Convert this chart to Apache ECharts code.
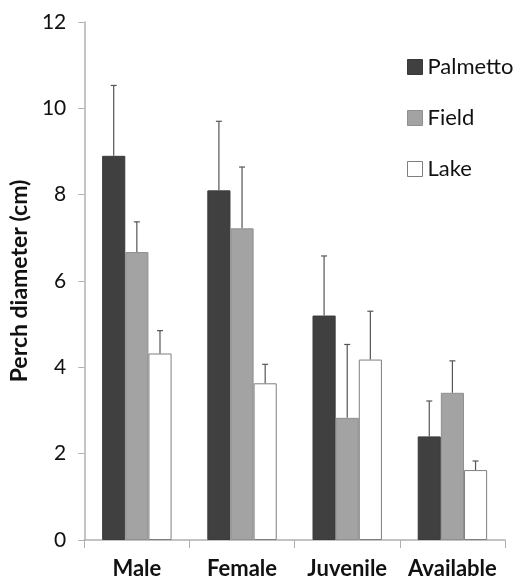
<!DOCTYPE html>
<html><head><meta charset="utf-8">
<script src="https://cdn.jsdelivr.net/npm/echarts@6/dist/echarts.min.js"></script>
<style>html,body{margin:0;padding:0;background:#fff}#c{width:523px;height:582px}</style>
</head><body><div id="c"></div>
<script>
const categories = ['Male', 'Female', 'Juvenile', 'Available'];
const seriesNames = ['Palmetto', 'Field', 'Lake'];
const palmetto = [8.9, 8.1, 5.2, 2.4];
const field = [6.67, 7.22, 2.83, 3.41];
const lake = [4.32, 3.63, 4.18, 1.62];
const palmettoErr = [1.63, 1.6, 1.38, 0.82];
const fieldErr = [0.7, 1.42, 1.7, 0.74];
const lakeErr = [0.53, 0.44, 1.12, 0.21];
const yTicks = [0, 2, 4, 6, 8, 10, 12];

const values = [palmetto, field, lake];
const errs = [palmettoErr, fieldErr, lakeErr];
const colors = ['#404040', '#a3a3a3', '#ffffff'];
const borders = ['#3a3a3a', '#8f8f8f', '#7f7f7f'];
const catGap = 0.34;
const FONT = 'Lato';

const chart = echarts.init(document.getElementById('c'), null, {renderer: 'canvas'});
const series = [];
seriesNames.forEach((n, i) => {
  series.push({
    name: n, type: 'bar', data: values[i],
    barGap: '0%', barCategoryGap: (catGap * 100) + '%',
    itemStyle: {color: colors[i], borderColor: borders[i], borderWidth: 1},
    emphasis: {disabled: true}, z: 2
  });
});
seriesNames.forEach((n, i) => {
  series.push({
    type: 'custom', name: n + ' err', silent: true, z: 3,
    data: values[i].map((v, k) => [k, v, v + errs[i][k]]),
    renderItem: function (params, api) {
      const k = api.value(0);
      const base = api.coord([k, api.value(1)]);
      const top = api.coord([k, api.value(2)]);
      const bandW = api.size([1, 0])[0];
      const bw = bandW * (1 - catGap) / 3;
      const x = base[0] + (i - 1) * bw;
      const cap = 3;
      const st = {stroke: '#555', lineWidth: 1.2};
      return {type: 'group', children: [
        {type: 'line', shape: {x1: x, y1: base[1], x2: x, y2: top[1]}, style: st},
        {type: 'line', shape: {x1: x - cap, y1: top[1], x2: x + cap, y2: top[1]}, style: st}
      ]};
    }
  });
});

chart.setOption({
  animation: false,
  textStyle: {fontFamily: FONT},
  grid: {left: 80, right: 18, top: 22, bottom: 42, containLabel: false},
  legend: {
    data: seriesNames.map((n, i) => ({name: n, itemStyle: {color: colors[i], borderColor: borders[i], borderWidth: 1}})),
    orient: 'vertical', left: 402, top: 51, itemGap: 29,
    itemWidth: 15, itemHeight: 15, icon: 'rect',
    textStyle: {fontSize: 22, lineHeight: 22, color: '#111', fontFamily: FONT}
  },
  xAxis: {
    type: 'category', data: categories,
    axisLine: {lineStyle: {color: '#b0b0b0', width: 1.5}},
    axisTick: {show: true, length: 8, lineStyle: {color: '#b0b0b0'}},
    axisLabel: {interval: 0, hideOverlap: false, fontSize: 22, fontWeight: 'bold', color: '#111', margin: 18, fontFamily: FONT}
  },
  yAxis: {
    type: 'value', min: yTicks[0], max: yTicks[yTicks.length - 1], interval: 2,
    name: 'Perch diameter (cm)', nameLocation: 'middle', nameGap: 52,
    nameTextStyle: {fontSize: 23, fontWeight: 'bold', color: '#111', fontFamily: FONT},
    axisLine: {show: true, lineStyle: {color: '#b0b0b0', width: 1.5}},
    axisTick: {show: true, length: 6, lineStyle: {color: '#b0b0b0'}},
    splitLine: {show: false},
    axisLabel: {fontSize: 21, color: '#111', margin: 18, fontFamily: FONT}
  },
  series: series
});
</script></body></html>
